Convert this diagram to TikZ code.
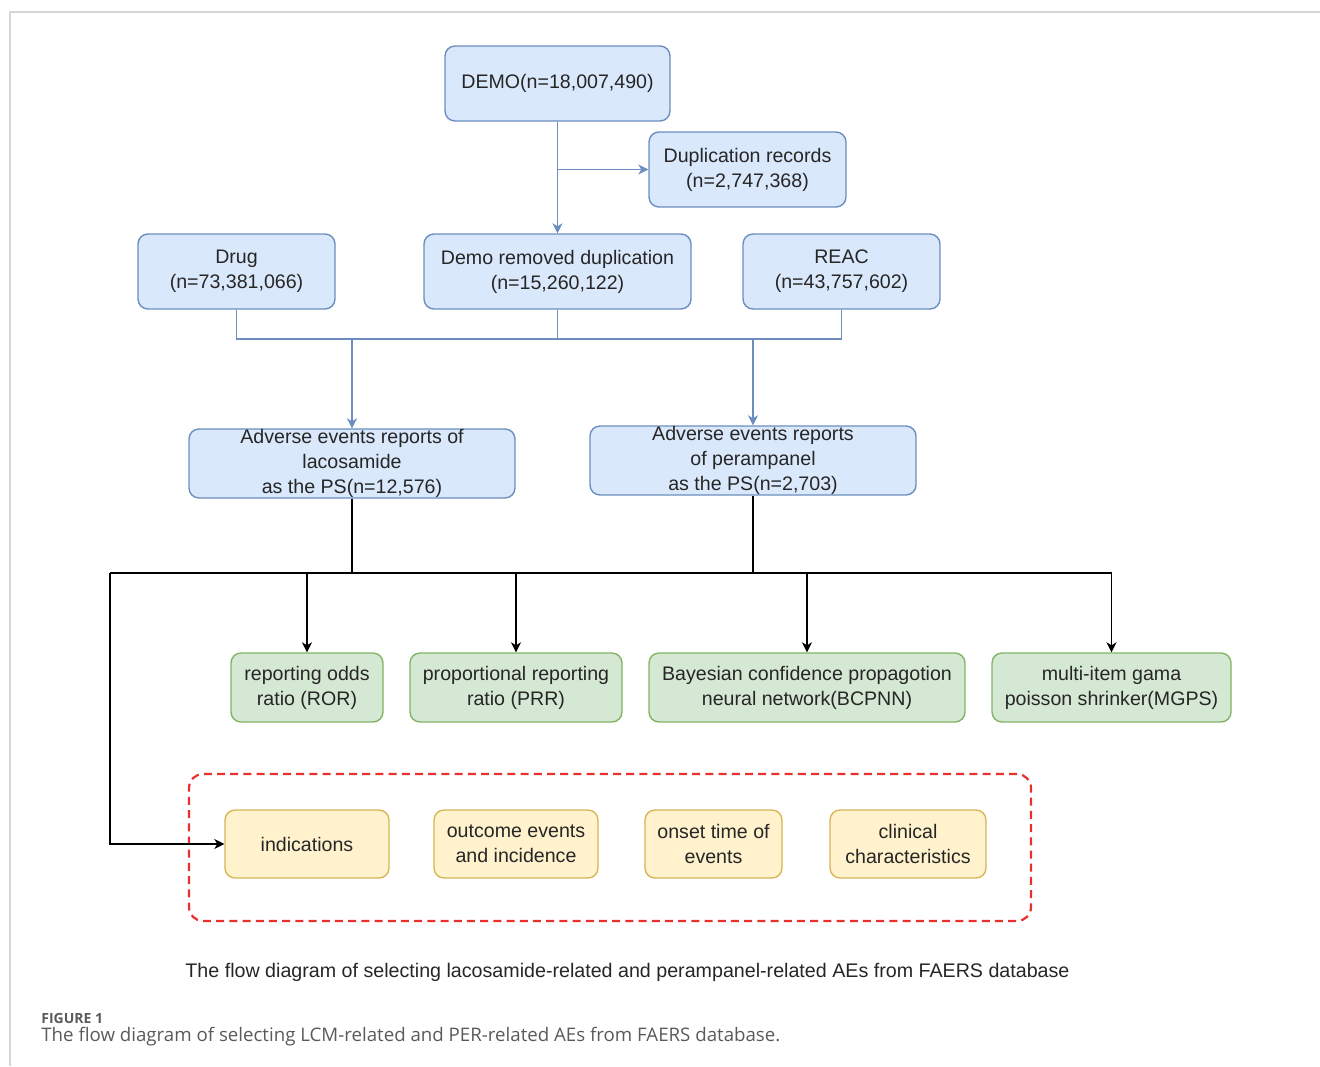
\documentclass[tikz,border=0pt]{standalone}
\usepackage{fontspec}
\setmainfont{Liberation Sans}
\newfontfamily\capfont{Open Sans}
\usetikzlibrary{arrows.meta}
\definecolor{bfill}{HTML}{DAE8FC}
\definecolor{bline}{HTML}{6C8EBF}
\definecolor{gfill}{HTML}{D5E8D4}
\definecolor{gline}{HTML}{82B366}
\definecolor{yfill}{HTML}{FFF2CC}
\definecolor{yline}{HTML}{D6B656}
\definecolor{dred}{HTML}{E8302E}
\definecolor{txt}{HTML}{262626}
\definecolor{framegray}{HTML}{D6D6D6}
\definecolor{capgray}{HTML}{5A5A5A}
\begin{document}
\begin{tikzpicture}[x=0.5pt,y=-0.5pt,
  basebox/.style={draw, rounded corners=5pt, line width=0.7pt, align=center, inner sep=0pt,
    text=txt, font=\fontsize{9.8}{12.5}\selectfont},
  bbox/.style={basebox, fill=bfill, draw=bline},
  gbox/.style={basebox, fill=gfill, draw=gline},
  ybox/.style={basebox, fill=yfill, draw=yline},
  bcon/.style={draw=bline, line width=0.7pt},
  barrow/.style={bcon, -{Stealth[length=5pt,width=5pt,inset=1.5pt]}},
  kcon/.style={draw=black, line width=0.7pt},
  karrow/.style={kcon, -{Stealth[length=5pt,width=5pt,inset=1.5pt]}},
  dashbox/.style={draw=dred, line width=1.1pt, dash pattern=on 4pt off 2.6pt, rounded corners=7pt, inner sep=0pt}
]
\useasboundingbox (0,0) rectangle (1320,1066);
\draw[framegray, line width=1pt] (10,1066) -- (10,12) -- (1320,12);

% top blue boxes
\node[bbox, minimum width=112.5pt, minimum height=37.5pt] (demo) at (557.5,83.5) {DEMO(n=18,007,490)};
\node[bbox, minimum width=98.5pt, minimum height=37.5pt] (dup) at (747.5,169.5) {Duplication records\\(n=2,747,368)};
\node[bbox, minimum width=98.5pt, minimum height=37.5pt] (drug) at (236.5,271.5) {Drug\\(n=73,381,066)};
\node[bbox, minimum width=133.5pt, minimum height=37.5pt] (demo2) at (557.5,271.5) {Demo removed duplication\\(n=15,260,122)};
\node[bbox, minimum width=98.5pt, minimum height=37.5pt] (reac) at (841.5,271.5) {REAC\\(n=43,757,602)};
\node[bbox, minimum width=163pt, minimum height=34.5pt] (lac) at (352,463.5) {Adverse events reports of\\lacosamide\\as the PS(n=12,576)};
\node[bbox, minimum width=163pt, minimum height=34.5pt] (per) at (753,460.5) {Adverse events reports\\of perampanel\\as the PS(n=2,703)};

% green boxes
\node[gbox, minimum width=76pt, minimum height=34.5pt] (ror) at (307,687.5) {reporting odds\\ratio (ROR)};
\node[gbox, minimum width=106pt, minimum height=34.5pt] (prr) at (516,687.5) {proportional reporting\\ratio (PRR)};
\node[gbox, minimum width=158pt, minimum height=34.5pt] (bcpnn) at (807,687.5) {Bayesian confidence propagotion\\neural network(BCPNN)};
\node[gbox, minimum width=119.5pt, minimum height=34.5pt] (mgps) at (1111.5,687.5) {multi-item gama\\poisson shrinker(MGPS)};

% dashed group and yellow boxes
\node[dashbox, minimum width=421pt, minimum height=73.5pt] (grp) at (610,847.5) {};
\node[ybox, minimum width=82pt, minimum height=34pt] (ind) at (307,844) {indications};
\node[ybox, minimum width=82pt, minimum height=34pt] (outc) at (516,844) {outcome events\\and incidence};
\node[ybox, minimum width=68.5pt, minimum height=34pt] (ons) at (713.5,844) {onset time of\\events};
\node[ybox, minimum width=78pt, minimum height=34pt] (cli) at (908,844) {clinical\\characteristics};

% blue connectors
\coordinate (dj) at (557.5,169.5);
\draw[barrow] (demo.south) -- (demo2.north);
\draw[barrow] (dj) -- (dup.west);
\coordinate (j) at (557.5,339);
\draw[bcon] (drug.south) -- (drug.south |- j) -- (reac.south |- j) -- (reac.south);
\draw[bcon] (demo2.south) -- (j);
\draw[barrow] (lac.north |- j) -- (lac.north);
\draw[barrow] (per.north |- j) -- (per.north);

% black connectors
\coordinate (hl) at (110,573);
\draw[kcon] (lac.south) -- (lac.south |- hl);
\draw[kcon] (per.south) -- (per.south |- hl);
\draw[kcon] (hl) -- (mgps.north |- hl);
\draw[karrow] (ror.north |- hl) -- (ror.north);
\draw[karrow] (prr.north |- hl) -- (prr.north);
\draw[karrow] (bcpnn.north |- hl) -- (bcpnn.north);
\draw[karrow] (mgps.north |- hl) -- (mgps.north);
\draw[karrow] (hl) |- (ind.west);

% captions
\node[text=txt, font=\fontsize{9.83}{11}\selectfont, inner sep=0pt] (cap) at (627.5,972) {The flow diagram of selecting lacosamide-related and perampanel-related AEs from FAERS database};
\node[anchor=west, text=capgray, font=\capfont\bfseries\fontsize{7}{8}\selectfont, inner sep=0pt] (fig) at (41,1018) {FIGURE 1};
\node[anchor=west, text=capgray, font=\capfont\fontsize{9.34}{10}\selectfont, inner sep=0pt] (capt) at (41,1037) {The flow diagram of selecting LCM-related and PER-related AEs from FAERS database.};
\end{tikzpicture}
\end{document}
